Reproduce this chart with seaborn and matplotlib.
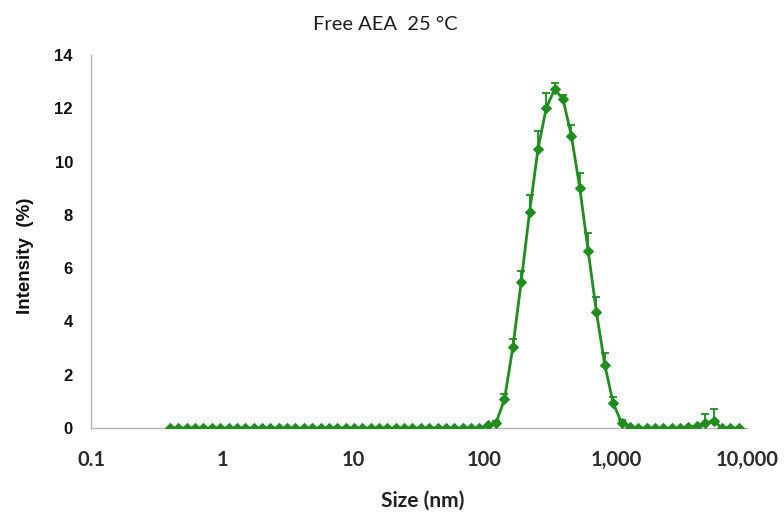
import numpy as np
import pandas as pd
import matplotlib
matplotlib.use("Agg")
import matplotlib.pyplot as plt
import seaborn as sns
from matplotlib.ticker import FixedLocator, FixedFormatter, NullLocator

# ---- data ----
size_nm = [0.4, 0.4632, 0.5365, 0.6213, 0.7195, 0.8332, 0.9649, 1.117, 1.294, 1.499,
           1.736, 2.010, 2.328, 2.696, 3.122, 3.615, 4.187, 4.849, 5.615, 6.503,
           7.531, 8.721, 10.10, 11.70, 13.54, 15.69, 18.17, 21.04, 24.36, 28.21,
           32.67, 37.84, 43.82, 50.75, 58.77, 68.06, 78.82, 91.28, 105.7, 122.4,
           141.8, 164.2, 190.1, 220.2, 255.0, 295.3, 342.0, 396.1, 458.7, 531.2,
           615.1, 712.4, 825.0, 955.4, 1106, 1281, 1484, 1718, 1990, 2305,
           2669, 3091, 3580, 4145, 4801, 5560, 6439, 7456, 8635]
intensity = [0, 0, 0, 0, 0, 0, 0, 0, 0, 0,
             0, 0, 0, 0, 0, 0, 0, 0, 0, 0,
             0, 0, 0, 0, 0, 0, 0, 0, 0, 0,
             0, 0, 0, 0, 0, 0, 0, 0, 0.1, 0.2,
             1.08, 3.03, 5.49, 8.11, 10.46, 12.02, 12.72, 12.34, 10.97, 9.02,
             6.66, 4.34, 2.36, 0.93, 0.2, 0.05, 0, 0, 0, 0,
             0, 0, 0.03, 0.08, 0.18, 0.27, 0, 0, 0]
err_up = [0, 0, 0, 0, 0, 0, 0, 0, 0, 0,
          0, 0, 0, 0, 0, 0, 0, 0, 0, 0,
          0, 0, 0, 0, 0, 0, 0, 0, 0, 0,
          0, 0, 0, 0, 0, 0, 0, 0, 0, 0.05,
          0.2, 0.3, 0.41, 0.64, 0.69, 0.56, 0.24, 0.16, 0.4, 0.56,
          0.65, 0.59, 0.44, 0.25, 0.1, 0, 0, 0, 0, 0,
          0, 0, 0, 0, 0.34, 0.43, 0, 0, 0]

xtick_vals = [0.1, 1, 10, 100, 1000, 10000]
xtick_labels = ["0.1", "1", "10", "100", "1,000", "10,000"]
ytick_vals = [0, 2, 4, 6, 8, 10, 12, 14]

title_text = "Free AEA  25 \u00b0C"
xlabel_text = "Size (nm)"
ylabel_text = "Intensity  (%)"

df = pd.DataFrame({"size": size_nm, "intensity": intensity, "err": err_up})

GREEN = "#1f8e1f"
AXGRAY = "#b4b4b4"

sns.set_style("white")
plt.rcParams["font.family"] = ["Liberation Sans", "DejaVu Sans"]

fig = plt.figure(figsize=(7.84, 5.15), dpi=100)
ax = fig.add_axes([91 / 784, 1 - 428 / 515, (747 - 91) / 784, (428 - 55) / 515])

# upper-only error bars
sub = df[df["err"] > 0]
ax.errorbar(sub["size"], sub["intensity"],
            yerr=[np.zeros(len(sub)), sub["err"].values],
            fmt="none", ecolor=GREEN, elinewidth=1.3, capsize=3, capthick=1.3, zorder=2)

sns.lineplot(data=df, x="size", y="intensity", ax=ax, color=GREEN, linewidth=2.0,
             marker="D", markersize=5.5, markeredgecolor=GREEN, markerfacecolor=GREEN,
             estimator=None, sort=False, zorder=3)

ax.set_xscale("log")
ax.set_xlim(0.1, 10000)
ax.set_ylim(0, 14)
ax.xaxis.set_major_locator(FixedLocator(xtick_vals))
ax.xaxis.set_major_formatter(FixedFormatter(xtick_labels))
ax.xaxis.set_minor_locator(NullLocator())
ax.set_yticks(ytick_vals)

for s in ["top", "right"]:
    ax.spines[s].set_visible(False)
for s in ["left", "bottom"]:
    ax.spines[s].set_color(AXGRAY)
    ax.spines[s].set_linewidth(1.0)

ax.tick_params(axis="x", direction="inout", length=6, width=1, color=AXGRAY, pad=13,
               labelsize=14.5, labelcolor="#2b2b2b")
ax.tick_params(axis="y", direction="out", length=4, width=1, color=AXGRAY, pad=9,
               labelsize=12, labelcolor="#111111")
for lab in ax.get_xticklabels():
    lab.set_family(["Lato", "DejaVu Sans"])
    lab.set_fontweight("bold")
for lab in ax.get_yticklabels():
    lab.set_fontweight("bold")

ax.set_xlabel("")
ax.set_ylabel("")
fig.text(423 / 784, 1 - 501 / 515, xlabel_text, ha="center", va="center",
         fontsize=15, fontweight="bold", color="#222222", family=["Lato", "DejaVu Sans"])
fig.text(26 / 784, 1 - 256 / 515, ylabel_text, ha="center", va="center", rotation=90,
         fontsize=13.5, fontweight="bold", color="#111111")
fig.text(385 / 784, 1 - 24 / 515, title_text, ha="center", va="center",
         fontsize=14.5, color="#1e1e1e", family=["Lato", "DejaVu Sans"])

fig.savefig("out.png", dpi=100, facecolor="white")
